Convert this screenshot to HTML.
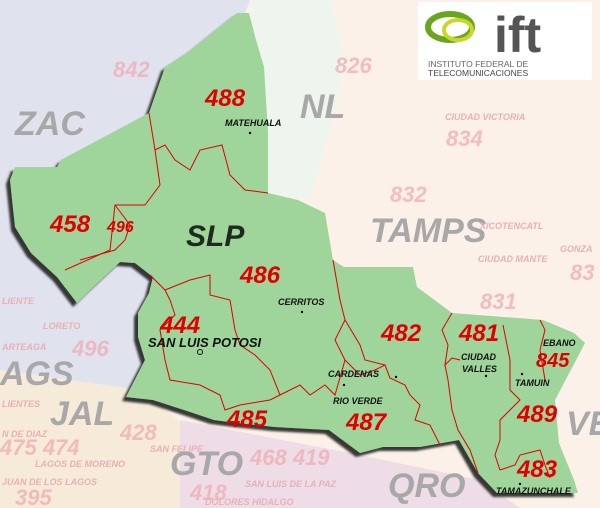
<!DOCTYPE html>
<html><head><meta charset="utf-8"><style>
html,body{margin:0;padding:0;background:#fff}
svg{display:block}
text{font-family:"Liberation Sans",sans-serif}
.bg{fill:#f0a8b0;font-weight:bold;font-style:italic;font-size:22px;opacity:.7}
.st{fill:#a8a8a8;font-weight:bold;font-style:italic;font-size:34px}
.ac{fill:#e00000;font-weight:bold;font-style:italic;font-size:24px}
.ct{fill:#111;font-weight:bold;font-style:italic;font-size:9px}
.sm{fill:#e8b0b8;font-weight:bold;font-style:italic;font-size:9px}
</style></head><body>
<svg width="600" height="508" viewBox="0 0 600 508">
<defs>
<filter id="sh" x="-10%" y="-10%" width="120%" height="120%"><feDropShadow dx="-4" dy="4" stdDeviation="1" flood-color="#222" flood-opacity=".9"/></filter>
</defs>
<rect width="600" height="508" fill="#fcf1e8"/>
<polygon points="0,0 250,0 235,40 220,60 200,320 150,330 140,390 0,370" fill="#e0e3ee"/>
<polygon points="0,370 140,390 190,430 180,508 0,508" fill="#f6ead8"/>
<polygon points="180,420 360,455 480,480 520,508 180,508" fill="#eedde6"/>
<polygon points="250,0 330,0 345,60 330,130 310,200 268,193" fill="#eef4ee"/>
<g>
<text class="bg" x="113" y="77">842</text><text class="bg" x="335" y="73">826</text>
<text class="bg" x="446" y="146">834</text><text class="bg" x="390" y="202">832</text>
<text class="bg" x="480" y="309">831</text><text class="bg" x="72" y="356">496</text>
<text class="bg" x="120" y="440">428</text><text class="bg" x="0" y="455">475 474</text>
<text class="bg" x="250" y="465">468 419</text><text class="bg" x="190" y="500">418</text>
<text class="bg" x="15" y="505">395</text><text class="bg" x="570" y="280">83</text>
<text class="st" x="15" y="135">ZAC</text><text class="st" x="300" y="118">NL</text>
<text class="st" x="370" y="242">TAMPS</text><text class="st" x="0" y="385">AGS</text>
<text class="st" x="50" y="425">JAL</text><text class="st" x="170" y="475">GTO</text>
<text class="st" x="388" y="497">QRO</text><text class="st" x="566" y="435">VE</text>
<text class="sm" x="445" y="120">CIUDAD VICTORIA</text><text class="sm" x="480" y="229">XICOTENCATL</text>
<text class="sm" x="478" y="262">CIUDAD MANTE</text><text class="sm" x="560" y="252">GONZA</text>
<text class="sm" x="2" y="304">LIENTE</text><text class="sm" x="43" y="329">LORETO</text>
<text class="sm" x="2" y="350">ARTEAGA</text><text class="sm" x="2" y="407">LIENTES</text>
<text class="sm" x="2" y="437">N DE DIAZ</text><text class="sm" x="35" y="467">LAGOS DE MORENO</text>
<text class="sm" x="2" y="485">JUAN DE LOS LAGOS</text><text class="sm" x="150" y="452">SAN FELIPE</text>
<text class="sm" x="245" y="487">SAN LUIS DE LA PAZ</text><text class="sm" x="205" y="505">DOLORES HIDALGO</text>
</g>
<polygon filter="url(#sh)" fill="#9fd49a" points="237,13 249,13 256,40 264,67 268,133 268,193 298,200 325,213 333,260 344,267 413,267 417,287 452,313 543,320 574,333 585,343 555,400 559,443 574,480 578,493 497,493 478,473 459,440 420,447 383,447 360,453 329,430 275,427 237,423 214,420 184,410 153,400 126,397 145,360 138,337 138,313 149,293 153,277 135,263 120,262 90,290 77,303 57,277 31,253 15,227 10,180 15,167 57,167 61,160 149,113 165,67 191,50"/>
<g fill="none" stroke="#e00000" stroke-width="1">
<polyline points="149,113 155,150 165,145 175,160 190,170 200,150 222,145 230,175 245,190 268,193"/>
<polyline points="155,150 160,185 145,205 115,205 110,250 65,270"/>
<polyline points="115,205 130,225 125,240 115,250 80,260"/>
<polyline points="150,275 165,290 190,280 210,275 210,295 230,300 235,330 240,345 255,355 270,370 280,395 300,385 310,395 325,385 335,395 345,360 335,340 345,320 340,300 333,260"/>
<polyline points="165,290 170,300 175,315 160,330 165,360 170,380 200,385 220,395 225,410 240,405 270,400 280,395"/>
<polyline points="345,360 360,375 375,370 385,365 390,378 405,385 410,395 420,405 415,420 430,425 440,445"/>
<polyline points="345,320 360,345 365,360 385,365"/>
<polyline points="445,365 448,380 452,410 458,430 470,450 478,473"/>
<polyline points="452,313 442,330 448,345 445,365 452,358 460,360"/>
<polyline points="503,325 510,360 510,390 520,400 500,420 500,440 495,455 500,470"/>
<polyline points="540,320 545,330 540,350 545,380"/>
<polyline points="500,470 515,465 520,455 540,450 545,465 550,478"/>
</g>
<g>
<text class="ac" x="205" y="106">488</text><text class="ac" x="50" y="232">458</text>
<text class="ac" x="107" y="232" style="font-size:16px">496</text><text class="ac" x="240" y="283">486</text>
<text class="ac" x="160" y="333">444</text><text class="ac" x="381" y="341">482</text>
<text class="ac" x="459" y="341">481</text><text class="ac" x="536" y="367" style="font-size:20px">845</text>
<text class="ac" x="227" y="427">485</text><text class="ac" x="346" y="430">487</text>
<text class="ac" x="517" y="422">489</text><text class="ac" x="517" y="477">483</text>
</g>
<text x="186" y="246" fill="#1e2a1e" font-weight="bold" font-style="italic" font-size="30">SLP</text>
<g>
<text class="ct" x="225" y="126">MATEHUALA</text><circle cx="250" cy="133" r="1.2"/>
<text class="ct" x="278" y="305">CERRITOS</text><circle cx="302" cy="312" r="1.2"/>
<text class="ct" x="148" y="347" style="font-size:13px">SAN LUIS POTOSI</text><circle cx="200" cy="352" r="2.5" fill="none" stroke="#111"/>
<text class="ct" x="328" y="377">CARDENAS</text><circle cx="344" cy="385" r="1.2"/><circle cx="396" cy="377" r="1.2"/>
<text class="ct" x="333" y="404">RIO VERDE</text>
<text class="ct" x="461" y="360">CIUDAD</text><text class="ct" x="462" y="372">VALLES</text><circle cx="486" cy="376" r="1.2"/>
<text class="ct" x="543" y="346">EBANO</text><text class="ct" x="515" y="386">TAMUIN</text><circle cx="522" cy="374" r="1.2"/>
<text class="ct" x="496" y="494">TAMAZUNCHALE</text><circle cx="520" cy="484" r="1.2"/>
</g>
<g>
<rect x="418" y="2" width="174" height="78" fill="#fff"/>
<ellipse cx="450" cy="27" rx="22" ry="13" fill="none" stroke="#6aa51e" stroke-width="6"/>
<ellipse cx="458" cy="30" rx="14" ry="10" fill="none" stroke="#c8d82a" stroke-width="4"/>
<text x="494" y="52" fill="#555" font-weight="bold" font-size="50" font-family="Liberation Sans">ift</text>
<text x="428" y="67" fill="#666" font-size="8.5">INSTITUTO FEDERAL DE</text>
<text x="428" y="76" fill="#444" font-size="8.5">TELECOMUNICACIONES</text>
</g>
</svg>
</body></html>
